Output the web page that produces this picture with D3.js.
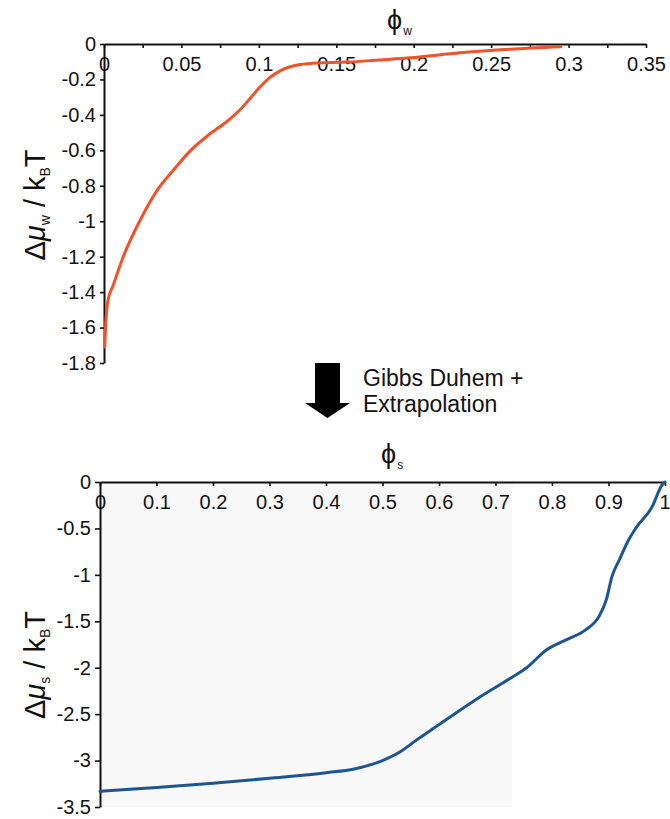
<!DOCTYPE html>
<html><head><meta charset="utf-8">
<script src="https://cdn.jsdelivr.net/npm/d3@7"></script>
<style>
body{margin:0;background:#fff}
svg{display:block}
text{font-family:"Liberation Sans",Arial,Helvetica,sans-serif;fill:#111}
</style>
</head><body>
<svg id="chart" width="670" height="819"></svg>
<script>
// ---- data ----
const phiW = [0.0005,0.001,0.0025,0.006,0.012,0.023,0.034,0.045,0.056,0.068,0.079,0.088,0.095,0.1,0.107,0.114,0.124,0.135,0.157,0.178,0.198,0.23,0.262,0.295];
const muW  = [-1.71,-1.6,-1.45,-1.36,-1.21,-1.0,-0.83,-0.71,-0.6,-0.51,-0.44,-0.37,-0.3,-0.25,-0.19,-0.15,-0.12,-0.108,-0.102,-0.09,-0.078,-0.05,-0.03,-0.016];

const phiS = [0,0.1,0.2,0.3,0.4,0.45,0.5,0.53,0.56,0.6125,0.671,0.73,0.755,0.79,0.825,0.86,0.883,0.896,0.906,0.919,0.936,0.948,0.977,0.995,1.0];
const muS  = [-3.33,-3.29,-3.245,-3.19,-3.13,-3.09,-3.0,-2.91,-2.78,-2.56,-2.32,-2.1,-2.0,-1.81,-1.70,-1.59,-1.45,-1.27,-1.02,-0.84,-0.62,-0.5,-0.27,-0.03,0];

const topXTicks  = [0,0.025,0.05,0.075,0.1,0.125,0.15,0.175,0.2,0.225,0.25,0.275,0.3,0.325,0.35];
const topXLabels = ["0","","0.05","","0.1","","0.15","","0.2","","0.25","","0.3","","0.35"];
const topYTicks  = [0,-0.2,-0.4,-0.6,-0.8,-1,-1.2,-1.4,-1.6,-1.8];
const botXTicks  = [0,0.1,0.2,0.3,0.4,0.5,0.6,0.7,0.8,0.9,1];
const botYTicks  = [0,-0.5,-1,-1.5,-2,-2.5,-3,-3.5];
const shadeX = [0, 0.73];
const shadeY = [0, -3.5];

const arrowText = ["Gibbs Duhem +", "Extrapolation"];

// ---- drawing ----
const svg = d3.select("#chart");

function styleAxis(g){
  g.attr("font-size", 20).attr("font-family", '"Liberation Sans",Arial,sans-serif');
  g.select(".domain").attr("stroke", "#111").attr("stroke-width", 2);
  g.selectAll(".tick line").attr("stroke", "#111").attr("stroke-width", 1.6);
  g.selectAll(".tick text").attr("fill", "#111");
}

// Top panel
const xT = d3.scaleLinear().domain([0, 0.35]).range([104, 646]);
const yT = d3.scaleLinear().domain([0, -1.8]).range([44, 363]);

svg.append("g").attr("transform", `translate(0,${yT(0)})`)
  .call(d3.axisBottom(xT).tickValues(topXTicks).tickFormat((d,i)=>topXLabels[i]).tickSize(4).tickPadding(9).tickSizeOuter(0))
  .call(styleAxis);
svg.append("g").attr("transform", `translate(${xT(0)},0)`)
  .call(d3.axisLeft(yT).tickValues(topYTicks).tickFormat(d=>String(d)).tickSize(4).tickPadding(4).tickSizeOuter(0))
  .call(styleAxis);

const lineT = d3.line().x((d,i)=>xT(phiW[i])).y((d,i)=>yT(muW[i])).curve(d3.curveMonotoneX);
svg.append("path").datum(phiW).attr("d", lineT)
  .attr("fill","none").attr("stroke","#f0522a").attr("stroke-width",3).attr("stroke-linejoin","round").attr("stroke-linecap","round");

// top titles
const tT = svg.append("text").attr("x", 387).attr("y", 29).attr("font-size", 27);
tT.append("tspan").text("ϕ");
tT.append("tspan").attr("font-size", 12).attr("dy", 6).attr("dx", 1).text("w");

const yl1 = svg.append("text").attr("transform", "translate(45,205) rotate(-90)").attr("text-anchor","middle").attr("font-size", 29);
yl1.append("tspan").text("Δ");
yl1.append("tspan").attr("font-style","italic").text("μ");
yl1.append("tspan").attr("font-size", 14).attr("dy", 5).text("w");
yl1.append("tspan").attr("dy", -5).text(" / k");
yl1.append("tspan").attr("font-size", 14).attr("dy", 5).text("B");
yl1.append("tspan").attr("dy", -5).text("T");

// Arrow
svg.append("path")
  .attr("d", "M315,363 L340,363 L340,403 L350,403 L327.5,418 L305,403 L315,403 Z")
  .attr("fill", "#000");
svg.append("text").attr("x", 363).attr("y", 386).attr("font-size", 23).text(arrowText[0]);
svg.append("text").attr("x", 363).attr("y", 412).attr("font-size", 23).text(arrowText[1]);

// Bottom panel
const xB = d3.scaleLinear().domain([0, 1]).range([100, 665]);
const yB = d3.scaleLinear().domain([0, -3.5]).range([482, 807]);

svg.append("rect")
  .attr("x", xB(shadeX[0])).attr("y", yB(shadeY[0]))
  .attr("width", xB(shadeX[1]) - xB(shadeX[0])).attr("height", yB(shadeY[1]) - yB(shadeY[0]))
  .attr("fill", "#f8f8f9");

const gxB = svg.append("g").attr("transform", `translate(0,${yB(0)})`)
  .call(d3.axisBottom(xB).tickValues(botXTicks).tickFormat(d=>String(d)).tickSize(4).tickPadding(9).tickSizeOuter(0))
  .call(styleAxis);
// keep the last label ("1") inside the frame, as in the reference
gxB.selectAll(".tick text").filter(d => d === 1).attr("text-anchor", "end").attr("dx", 5);

svg.append("g").attr("transform", `translate(${xB(0)},0)`)
  .call(d3.axisLeft(yB).tickValues(botYTicks).tickFormat(d=>String(d)).tickSize(5).tickPadding(4).tickSizeOuter(0))
  .call(styleAxis);

const lineB = d3.line().x((d,i)=>xB(phiS[i])).y((d,i)=>yB(muS[i])).curve(d3.curveMonotoneX);
svg.append("path").datum(phiS).attr("d", lineB)
  .attr("fill","none").attr("stroke","#1d5592").attr("stroke-width",3).attr("stroke-linejoin","round").attr("stroke-linecap","round");

const tB = svg.append("text").attr("x", 381).attr("y", 463).attr("font-size", 27);
tB.append("tspan").text("ϕ");
tB.append("tspan").attr("font-size", 12).attr("dy", 6).attr("dx", 1).text("s");

const yl2 = svg.append("text").attr("transform", "translate(45,665) rotate(-90)").attr("text-anchor","middle").attr("font-size", 29);
yl2.append("tspan").text("Δ");
yl2.append("tspan").attr("font-style","italic").text("μ");
yl2.append("tspan").attr("font-size", 14).attr("dy", 5).text("s");
yl2.append("tspan").attr("dy", -5).text(" / k");
yl2.append("tspan").attr("font-size", 14).attr("dy", 5).text("B");
yl2.append("tspan").attr("dy", -5).text("T");
</script>
</body></html>
